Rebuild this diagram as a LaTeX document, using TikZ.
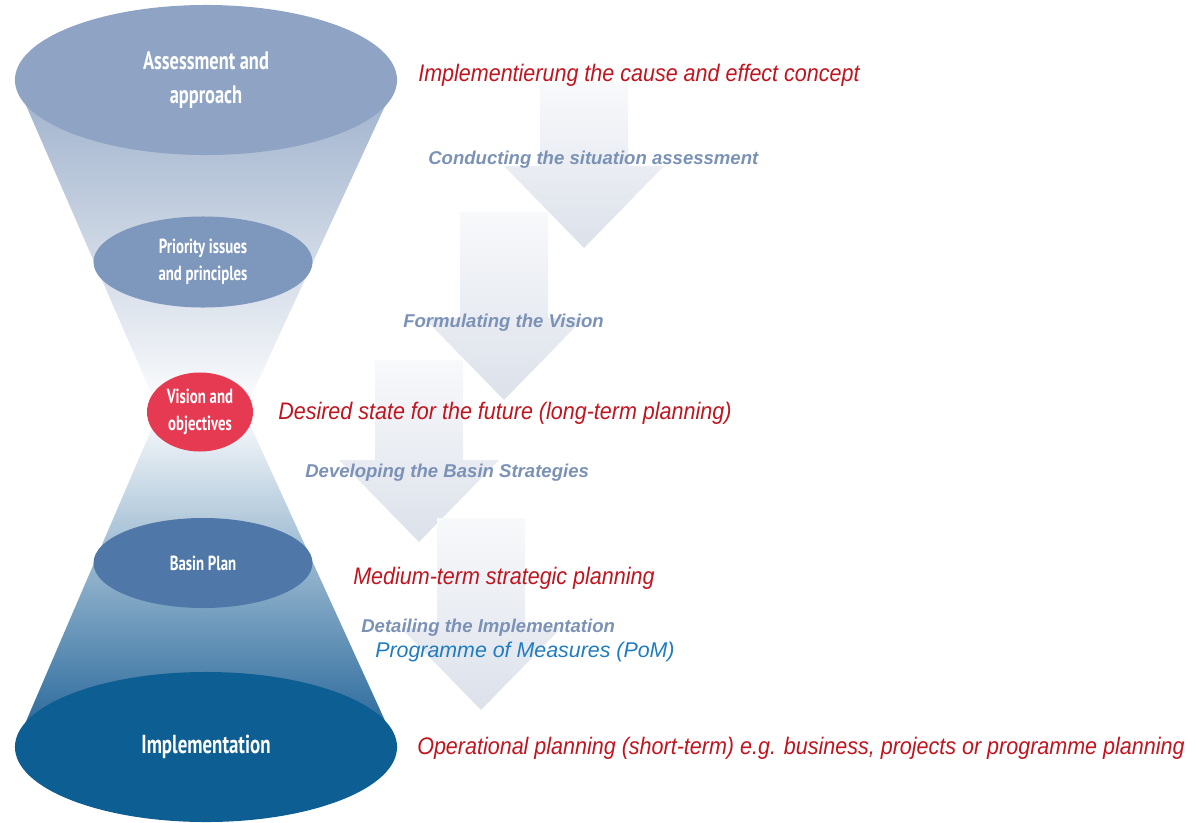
\documentclass[tikz,border=0pt]{standalone}
\usepackage{fontspec}
\setmainfont{Liberation Sans}
\newfontfamily\stagefont[FakeStretch=0.727]{PT Sans}
\newfontfamily\planfont[FakeStretch=0.9]{Liberation Sans}
\usetikzlibrary{shapes.geometric}

\definecolor{assessblue}{HTML}{8FA4C4}
\definecolor{priorblue}{HTML}{7E97BC}
\definecolor{visionred}{HTML}{E63A52}
\definecolor{basinblue}{HTML}{4F78A8}
\definecolor{implblue}{HTML}{0C5E93}
\definecolor{conetop}{HTML}{9DB0CB}
\definecolor{conemid}{HTML}{A8B9D2}
\definecolor{conebot}{HTML}{1E6196}
\definecolor{planred}{HTML}{C0141E}
\definecolor{stepgrey}{HTML}{7B92B6}
\definecolor{pomblue}{HTML}{1F7CC0}
\definecolor{arrowlight}{HTML}{F8F9FB}
\definecolor{arrowdark}{HTML}{DCE1EA}

\tikzset{
  stage/.style={ellipse, inner sep=0pt, text=white, align=center,
    font=\stagefont\bfseries\fontsize{18}{24}\selectfont},
  smallstage/.style={stage, font=\stagefont\bfseries\fontsize{14.5}{19}\selectfont},
  plantext/.style={anchor=west, inner sep=0pt, text=planred,
    font=\planfont\itshape\fontsize{17}{20}\selectfont},
  steptext/.style={anchor=west, inner sep=0pt, text=stepgrey,
    font=\bfseries\itshape\fontsize{13.2}{15}\selectfont},
  arrowshade/.style={top color=arrowlight, bottom color=arrowdark}
}

\begin{document}
\begin{tikzpicture}[x=0.025cm,y=-0.025cm]
  \useasboundingbox (0,0) rectangle (1195,822);

  % big pale arrows behind the texts
  \foreach \ax/\ay/\tip in {584/82/248, 504/212/400, 419/360/542, 481/518/710}{
    \shade[arrowshade] (\ax-44,\ay) -- (\ax+44,\ay) -- (\ax+44,\tip-82)
      -- (\ax+80,\tip-82) -- (\ax,\tip) -- (\ax-80,\tip-82)
      -- (\ax-44,\tip-82) -- cycle;
  }

  % hourglass
  \shade[top color=conetop, bottom color=white]
    (15,80) -- (397,80) -- (241,418) -- (162,418) -- cycle;
  \shade[top color=white, middle color=conemid, bottom color=conebot]
    (162,405) -- (241,405) -- (397,747) -- (15,747) -- cycle;

  \node[stage, fill=assessblue, minimum width=9.55cm, minimum height=3.75cm]
    (assess) at (206,80) {Assessment and\\approach};
  \node[smallstage, fill=priorblue, minimum width=5.475cm, minimum height=2.275cm]
    (priority) at (203,262) {Priority issues\\and principles};
  \node[smallstage, fill=visionred, minimum width=2.65cm, minimum height=1.975cm]
    (vision) at (200,412) {Vision and\\objectives};
  \node[smallstage, fill=basinblue, minimum width=5.475cm, minimum height=2.25cm]
    (basin) at (203,563) {Basin Plan};
  \node[stage, fill=implblue, minimum width=9.55cm, minimum height=3.75cm,
    font=\stagefont\bfseries\fontsize{18.5}{22}\selectfont]
    (impl) at (206,747) {Implementation};

  % planning levels
  \node[plantext] (cause) at (418,75) {Implementierung the cause and effect concept};
  \node[plantext] (longterm) at (278,413) {Desired state for the future (long-term planning)};
  \node[plantext] (medium) at (353,578) {Medium-term strategic planning};
  \node[plantext] (short) at (417,748) {Operational planning (short-term) e.g. business, projects or programme planning};

  % steps
  \node[steptext] (assessing) at (428,160) {Conducting the situation assessment};
  \node[steptext] (formulating) at (403,323) {Formulating the Vision};
  \node[steptext] (developing) at (305,473) {Developing the Basin Strategies};
  \node[steptext] (detailing) at (361,628) {Detailing the Implementation};
  \node[anchor=west, inner sep=0pt, text=pomblue, font=\itshape\fontsize{15.2}{17}\selectfont]
    (pom) at (375,652) {Programme of Measures (PoM)};
\end{tikzpicture}
\end{document}
